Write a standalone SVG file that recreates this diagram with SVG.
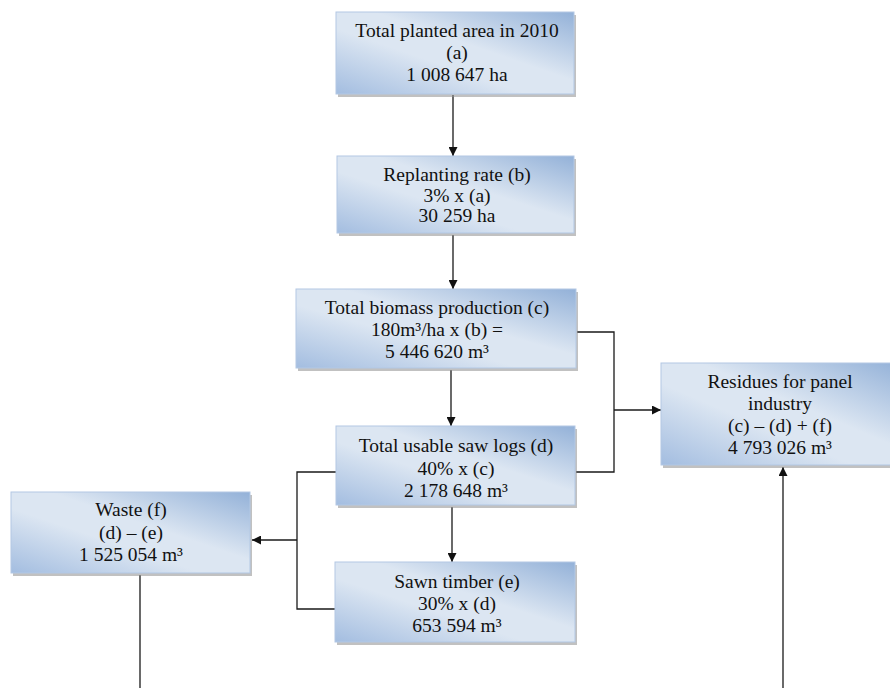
<svg xmlns="http://www.w3.org/2000/svg" width="890" height="688" viewBox="0 0 890 688">
<style>
.box{fill:url(#g);stroke:#b3c8e4;stroke-width:1}
.sh{fill:#8e8e8e;opacity:0.55}
text{font-family:"Liberation Serif","Times New Roman",serif;font-size:19.5px;fill:#111;text-anchor:middle}
.ln{fill:none;stroke:#1a1a1a;stroke-width:1.3}
</style>
<defs>
<linearGradient id="g" x1="1" y1="0" x2="0" y2="1">
<stop offset="0" stop-color="#93b1d8"/>
<stop offset="0.42" stop-color="#dce6f2"/>
<stop offset="0.6" stop-color="#dce6f2"/>
<stop offset="1" stop-color="#a3bde0"/>
</linearGradient>
<marker id="a" viewBox="0 0 10 10" refX="10" refY="5" markerWidth="9" markerHeight="9" markerUnits="userSpaceOnUse" orient="auto">
<path d="M0,0 L10,5 L0,10 z" fill="#111"/>
</marker>
</defs>
<rect width="890" height="688" fill="#fff"/>
<g id="connectors">
<path class="ln" d="M453,95 V156" marker-end="url(#a)"/>
<path class="ln" d="M453,235 V289" marker-end="url(#a)"/>
<path class="ln" d="M451,370 V426" marker-end="url(#a)"/>
<path class="ln" d="M452,507 V562" marker-end="url(#a)"/>
<path class="ln" d="M577,332 H614 V472 H576"/>
<path class="ln" d="M614,410 H661" marker-end="url(#a)"/>
<path class="ln" d="M336,472 H297 V609 H335"/>
<path class="ln" d="M297,540 H252" marker-end="url(#a)"/>
<path class="ln" d="M140,575 V688"/>
<path class="ln" d="M783,688 V467" marker-end="url(#a)"/>
</g>
<g id="n1">
<rect class="sh" x="338" y="15" width="238" height="82"/>
<rect class="box" x="336" y="12" width="238" height="82"/>
<text x="457" y="37">Total planted area in 2010</text>
<text x="457" y="59">(a)</text>
<text x="457" y="81">1 008 647 ha</text>
</g>
<g id="n2">
<rect class="sh" x="339" y="159" width="237" height="77"/>
<rect class="box" x="337" y="156" width="237" height="77"/>
<text x="457" y="181">Replanting rate (b)</text>
<text x="457" y="202">3% x (a)</text>
<text x="457" y="222">30 259 ha</text>
</g>
<g id="n3">
<rect class="sh" x="298" y="292" width="280" height="79"/>
<rect class="box" x="296" y="289" width="280" height="79"/>
<text x="437" y="314">Total biomass production (c)</text>
<text x="437" y="336">180m³/ha x (b) =</text>
<text x="437" y="358">5 446 620 m³</text>
</g>
<g id="n4">
<rect class="sh" x="338" y="429" width="239" height="79"/>
<rect class="box" x="336" y="426" width="239" height="79"/>
<text x="456" y="452">Total usable saw logs (d)</text>
<text x="456" y="475">40% x (c)</text>
<text x="456" y="497">2 178 648 m³</text>
</g>
<g id="n5">
<rect class="sh" x="663" y="366" width="240" height="102"/>
<rect class="box" x="661" y="363" width="240" height="102"/>
<text x="780" y="388">Residues for panel</text>
<text x="780" y="410">industry</text>
<text x="780" y="432">(c) – (d) + (f)</text>
<text x="780" y="454">4 793 026 m³</text>
</g>
<g id="n6">
<rect class="sh" x="13" y="495" width="239" height="81"/>
<rect class="box" x="11" y="492" width="239" height="81"/>
<text x="131" y="516">Waste (f)</text>
<text x="131" y="539">(d) – (e)</text>
<text x="131" y="561">1 525 054 m³</text>
</g>
<g id="n7">
<rect class="sh" x="337" y="565" width="240" height="80"/>
<rect class="box" x="335" y="562" width="240" height="80"/>
<text x="457" y="588">Sawn timber (e)</text>
<text x="457" y="610">30% x (d)</text>
<text x="457" y="632">653 594 m³</text>
</g>
</svg>
